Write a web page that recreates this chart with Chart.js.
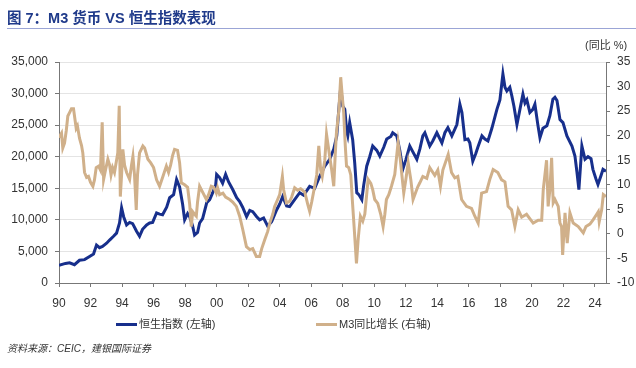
<!DOCTYPE html>
<html>
<head>
<meta charset="utf-8">
<script src="https://cdn.jsdelivr.net/npm/chart.js@4"></script>
<style>
  body { margin: 0; background: #fff; }
  #wrap { position: relative; width: 636px; height: 368px; overflow: hidden; font-family: "Liberation Sans", "Noto Sans CJK SC", sans-serif; color: #333; }
  #wrap canvas { position: absolute; left: 0; top: 0; }
  .title { position: absolute; left: 7px; top: 6px; font-size: 14.5px; font-weight: bold; color: #1f3a8a; white-space: nowrap; }
  .rule { position: absolute; left: 7px; top: 28px; width: 629px; height: 1px; background: #9ba5d6; }
  .unit { position: absolute; left: 585px; top: 36px; font-size: 11px; white-space: nowrap; }
  .leg { position: absolute; top: 316px; font-size: 11px; white-space: nowrap; line-height: 16px; }
  .leg i { display: inline-block; width: 21px; height: 3px; vertical-align: middle; margin-right: 2px; position: relative; top: -1px; }
  .src { position: absolute; left: 7px; top: 340px; font-size: 10px; font-style: italic; white-space: nowrap; }
</style>
</head>
<body>
<div id="wrap">
  <canvas id="canvas" width="636" height="368"></canvas>
  <div class="title">图 7：M3 货币 VS 恒生指数表现</div>
  <div class="rule"></div>
  <div class="unit">(同比 %)</div>
  <div class="leg" style="left:116px"><i style="background:#172f8c"></i>恒生指数 (左轴)</div>
  <div class="leg" style="left:316px"><i style="background:#d0b08a"></i>M3同比增长 (右轴)</div>
  <div class="src">资料来源：CEIC，建银国际证券</div>
</div>
<script>
/* 恒生指数 (左轴) */
const hsiYears = [1990.0, 1990.41, 1990.67, 1990.98, 1991.3, 1991.62, 1991.94, 1992.19, 1992.38, 1992.57, 1992.76,
  1993.02, 1993.21, 1993.46, 1993.65, 1993.84, 1993.97, 1994.1, 1994.29, 1994.48, 1994.67, 1994.92,
  1995.11, 1995.3, 1995.56, 1995.75, 1995.94, 1996.19, 1996.38, 1996.57, 1996.83, 1997.02, 1997.27,
  1997.46, 1997.65, 1997.84, 1997.97, 1998.16, 1998.29, 1998.48, 1998.6, 1998.79, 1998.92, 1999.11,
  1999.37, 1999.56, 1999.75, 1999.94, 2000.0, 2000.19, 2000.38, 2000.57, 2000.76, 2001.02, 2001.27,
  2001.46, 2001.65, 2001.9, 2002.1, 2002.29, 2002.54, 2002.73, 2002.98, 2003.24, 2003.49, 2003.81,
  2004.0, 2004.19, 2004.44, 2004.63, 2004.89, 2005.27, 2005.52, 2005.9, 2006.22, 2006.54, 2006.86,
  2007.17, 2007.43, 2007.62, 2007.75, 2007.87, 2008.0, 2008.13, 2008.25, 2008.32, 2008.44, 2008.63,
  2008.76, 2008.89, 2009.02, 2009.21, 2009.33, 2009.52, 2009.71, 2009.9, 2010.16, 2010.35, 2010.6,
  2010.79, 2011.05, 2011.17, 2011.43, 2011.62, 2011.81, 2012.0, 2012.25, 2012.44, 2012.7, 2012.89,
  2013.08, 2013.21, 2013.52, 2013.71, 2013.97, 2014.29, 2014.48, 2014.67, 2014.92, 2015.24, 2015.43,
  2015.56, 2015.75, 2015.94, 2016.06, 2016.25, 2016.44, 2016.57, 2016.83, 2017.02, 2017.21, 2017.46,
  2017.78, 2017.97, 2018.16, 2018.29, 2018.41, 2018.6, 2018.73, 2018.86, 2019.05, 2019.24, 2019.43,
  2019.56, 2019.68, 2019.87, 2020.06, 2020.19, 2020.38, 2020.51, 2020.7, 2020.95, 2021.14, 2021.33,
  2021.46, 2021.59, 2021.78, 2021.97, 2022.22, 2022.54, 2022.73, 2022.86, 2022.98, 2023.17, 2023.37,
  2023.56, 2023.75, 2023.87, 2024.06, 2024.19, 2024.38, 2024.51, 2024.7];
const hsiValues = [2800, 3100, 3200, 2900, 3600, 3700, 4200, 4600, 6000, 5600, 5800,
  6300, 6800, 7400, 7900, 9500, 11900, 10500, 9200, 9600, 9400, 8200,
  7400, 8500, 9200, 9500, 9600, 11100, 10900, 10800, 12000, 13500, 14000,
  16400, 15200, 12500, 10000, 11000, 10500, 9000, 7600, 8000, 9500, 10200,
  12700, 13200, 14300, 15500, 17200, 16700, 15800, 17200, 16000, 14800, 13500,
  12900, 12000, 10500, 11500, 11300, 10500, 10000, 10300, 9000, 9700, 11600,
  12500, 13700, 12200, 12100, 13000, 14300, 13900, 15300, 15000, 16900, 18500,
  19600, 21200, 23300, 27500, 31000, 28000, 27500, 24000, 23300, 25400, 22700,
  19000, 14300, 14000, 13200, 15500, 18500, 20000, 21700, 21000, 20100, 21500,
  22800, 23200, 23800, 23300, 21000, 18000, 19500, 21700, 20800, 19600, 21200,
  23300, 23800, 21700, 22500, 23800, 22200, 23800, 24600, 23300, 25100, 28300,
  27000, 22700, 22800, 22200, 19300, 20500, 21500, 23300, 22800, 22500, 24500,
  27500, 29000, 33100, 31000, 30400, 31000, 29600, 28000, 25100, 27500, 29900,
  28500, 29000, 27000, 27500, 28300, 25000, 23000, 24500, 24900, 26500, 29100,
  29400, 28900, 25900, 25400, 23300, 21700, 20100, 17500, 14800, 21700, 19600,
  20000, 19700, 18000, 16500, 15600, 17000, 18000, 17700];

/* M3同比增长 (右轴) */
const m3Years = [1990.0, 1990.16, 1990.24, 1990.35, 1990.46, 1990.56, 1990.67, 1990.79, 1990.92, 1991.09, 1991.17,
  1991.3, 1991.43, 1991.51, 1991.62, 1991.75, 1991.87, 1992.0, 1992.15, 1992.25, 1992.36, 1992.51,
  1992.63, 1992.74, 1992.83, 1992.95, 1993.1, 1993.21, 1993.3, 1993.4, 1993.52, 1993.73, 1993.82,
  1993.89, 1993.97, 1994.05, 1994.16, 1994.29, 1994.48, 1994.6, 1994.69, 1994.79, 1994.9, 1994.98,
  1995.11, 1995.32, 1995.43, 1995.64, 1995.81, 1996.0, 1996.19, 1996.38, 1996.57, 1996.81, 1996.95,
  1997.08, 1997.21, 1997.33, 1997.52, 1997.65, 1997.76, 1997.97, 1998.16, 1998.29, 1998.39, 1998.48,
  1998.6, 1998.71, 1998.79, 1998.92, 1999.11, 1999.35, 1999.49, 1999.66, 1999.81, 1999.98, 2000.06,
  2000.19, 2000.4, 2000.57, 2000.83, 2001.02, 2001.25, 2001.46, 2001.65, 2001.89, 2002.1, 2002.29,
  2002.52, 2002.73, 2002.86, 2003.05, 2003.24, 2003.37, 2003.56, 2003.68, 2003.87, 2004.0, 2004.17,
  2004.25, 2004.43, 2004.63, 2004.76, 2004.95, 2005.14, 2005.33, 2005.59, 2005.78, 2005.9, 2006.03,
  2006.22, 2006.35, 2006.48, 2006.6, 2006.7, 2006.86, 2006.97, 2007.17, 2007.3, 2007.43, 2007.52,
  2007.6, 2007.75, 2007.87, 2007.97, 2008.06, 2008.16, 2008.24, 2008.38, 2008.51, 2008.62, 2008.73,
  2008.87, 2008.98, 2009.12, 2009.27, 2009.4, 2009.61, 2009.78, 2009.9, 2010.03, 2010.22, 2010.41,
  2010.56, 2010.67, 2010.77, 2010.92, 2011.09, 2011.3, 2011.51, 2011.65, 2011.75, 2011.87, 2012.0,
  2012.15, 2012.32, 2012.46, 2012.63, 2012.76, 2012.89, 2013.08, 2013.33, 2013.52, 2013.84, 2014.03,
  2014.2, 2014.35, 2014.69, 2014.9, 2015.11, 2015.3, 2015.54, 2015.85, 2016.17, 2016.38, 2016.59,
  2016.81, 2017.12, 2017.33, 2017.54, 2017.84, 2018.08, 2018.29, 2018.49, 2018.71, 2018.92, 2019.13,
  2019.35, 2019.66, 2020.08, 2020.4, 2020.62, 2020.72, 2020.93, 2021.03, 2021.14, 2021.25, 2021.35,
  2021.46, 2021.67, 2021.78, 2021.88, 2021.95, 2022.1, 2022.24, 2022.41, 2022.62, 2022.94, 2023.26,
  2023.43, 2023.68, 2023.89, 2024.11, 2024.21, 2024.27, 2024.43, 2024.53, 2024.7];
const m3Values = [19.6, 20.5, 17.5, 18.5, 21.0, 24.0, 24.7, 25.5, 25.5, 21.5, 22.0,
  19.5, 18.0, 16.5, 12.5, 11.5, 11.7, 10.5, 9.7, 11.0, 13.5, 13.8,
  13.0, 22.7, 11.1, 13.0, 15.2, 14.0, 12.0, 13.5, 12.5, 16.5, 26.1,
  7.6, 12.0, 17.2, 14.0, 12.5, 11.1, 14.0, 15.8, 12.0, 4.9, 12.0,
  16.5, 17.9, 17.5, 15.2, 14.5, 13.5, 11.0, 9.7, 11.5, 13.8, 12.5,
  14.0, 16.0, 17.2, 17.0, 14.5, 10.4, 10.0, 9.5, 6.0, 1.5, 4.5,
  4.0, 3.6, 6.5, 9.7, 8.5, 7.0, 8.0, 9.7, 9.5, 8.3, 9.4,
  8.0, 8.3, 7.5, 7.0, 6.5, 5.6, 3.6, 1.0, -2.6, -3.2, -3.0,
  -4.6, -4.6, -3.0, -1.2, 0.5, 2.2, 4.0, 5.6, 7.0, 8.0, 11.7,
  9.0, 6.3, 6.6, 7.5, 9.4, 8.9, 9.2, 8.5, 6.0, 4.6, 6.5,
  9.7, 12.0, 17.9, 13.0, 11.7, 15.0, 20.3, 15.8, 13.0, 9.7, 16.0,
  20.6, 25.0, 31.9, 28.0, 24.7, 18.0, 13.8, 13.5, 12.0, 6.3, 1.0,
  -6.0, -1.0, 3.6, 2.6, 4.0, 11.1, 10.3, 9.0, 7.0, 6.2, 4.0,
  1.5, 4.0, 7.0, 8.0, 9.7, 12.1, 18.6, 15.2, 12.0, 8.3, 11.0,
  14.5, 11.0, 7.0, 8.5, 9.6, 10.4, 11.7, 11.3, 13.5, 11.9, 13.0,
  9.7, 13.0, 16.2, 12.5, 11.4, 11.7, 7.0, 5.6, 5.2, 3.6, 2.2,
  8.3, 8.6, 11.1, 13.1, 12.5, 11.0, 10.6, 5.6, 4.9, 1.5, 4.9,
  3.4, 4.0, 2.2, 2.8, 2.8, 9.0, 15.0, 5.6, 9.0, 15.5, 6.3,
  7.0, 5.6, 2.2, 1.5, -4.3, 4.3, -1.9, 4.3, 2.2, 1.5, 0.2,
  1.5, 2.0, 2.9, 4.0, 4.5, 2.5, 5.0, 8.0, 7.6];

const xTicks = [1990, 1992, 1994, 1996, 1998, 2000, 2002, 2004, 2006, 2008, 2010, 2012, 2014, 2016, 2018, 2020, 2022, 2024];

const axisFont = { family: '"Liberation Sans", sans-serif', size: 12 };
const axisColor = '#333';
const lineGrey = '#777';

const hsiData = hsiYears.map((x, i) => ({ x: x, y: hsiValues[i] }));
const m3Data = m3Years.map((x, i) => ({ x: x, y: m3Values[i] }));

const ctx = document.getElementById('canvas');
new Chart(ctx, {
  type: 'line',
  data: {
    datasets: [
      {
        label: 'M3同比增长 (右轴)',
        data: m3Data,
        yAxisID: 'y1',
        borderColor: '#d0b08a',
        borderWidth: 3,
        pointRadius: 0,
        tension: 0,
        order: 1
      },
      {
        label: '恒生指数 (左轴)',
        data: hsiData,
        yAxisID: 'y',
        borderColor: '#172f8c',
        borderWidth: 3,
        pointRadius: 0,
        tension: 0,
        order: 2
      }
    ]
  },
  options: {
    responsive: false,
    animation: false,
    layout: { autoPadding: false, padding: { top: 62, left: 0, right: 0, bottom: 0 } },
    plugins: { legend: { display: false }, tooltip: { enabled: false } },
    scales: {
      x: {
        type: 'linear',
        min: 1990,
        max: 2024.7,
        afterBuildTicks: s => { s.ticks = xTicks.map(v => ({ value: v })); },
        afterFit: s => { s.height = 85; },
        ticks: {
          autoSkip: false,
          maxRotation: 0,
          padding: 9,
          font: axisFont,
          color: axisColor,
          callback: v => String(v % 100).padStart(2, '0')
        },
        grid: { drawOnChartArea: false, tickLength: 4, tickColor: lineGrey },
        border: { color: lineGrey, width: 1 }
      },
      y: {
        position: 'left',
        min: 0,
        max: 35000,
        afterFit: s => { s.width = 59; },
        ticks: {
          stepSize: 5000,
          padding: 7,
          font: axisFont,
          color: axisColor,
          callback: v => v.toLocaleString('en-US')
        },
        grid: { color: '#e4e4e4', lineWidth: 1, tickLength: 4, tickColor: lineGrey },
        border: { color: lineGrey, width: 1 }
      },
      y1: {
        position: 'right',
        min: -10,
        max: 35,
        afterFit: s => { s.width = 30; },
        ticks: {
          stepSize: 5,
          padding: 7,
          font: axisFont,
          color: axisColor
        },
        grid: { drawOnChartArea: false, tickLength: 4, tickColor: lineGrey },
        border: { color: lineGrey, width: 1 }
      }
    }
  }
});
</script>
</body>
</html>
